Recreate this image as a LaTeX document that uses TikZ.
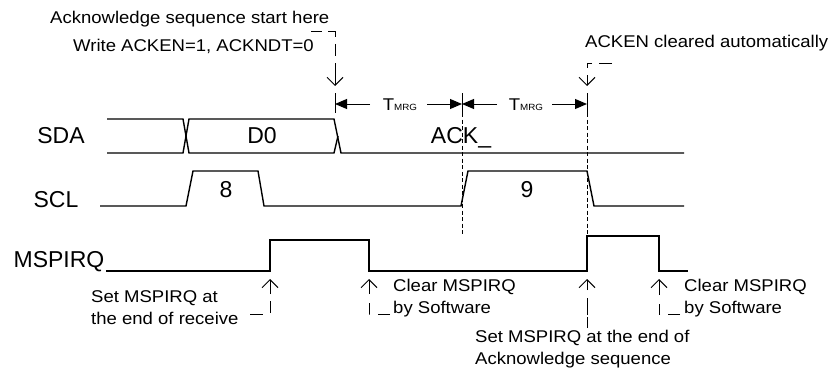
\documentclass[tikz,border=0pt]{standalone}
\usepackage{fontspec}
\setmainfont{Liberation Sans}
\newfontfamily\annfont[FakeStretch=1.09]{Liberation Sans}
\usetikzlibrary{arrows.meta}
\tikzset{
  sig/.style={line width=1.4pt, line join=miter},
  lbl/.style={font=\fontsize{23}{26}\selectfont, inner sep=0pt},
  ann/.style={font=\annfont\fontsize{17}{22}\selectfont, inner sep=0pt, align=left},
  callout/.style={line width=1pt, dash pattern={#1}, -{Straight Barb[length=8pt,width=16pt,line width=1pt]}},
  tmrg/.style={line width=1pt, -{Triangle[length=12pt,width=10pt]}},
  bar/.style={line width=1pt},
  guide/.style={line width=0.8pt, dash pattern=on 4pt off 2.5pt}
}
\newcommand{\tmrgtext}{{\annfont\fontsize{17}{17}\selectfont T}{\annfont\fontsize{9}{9}\selectfont MRG}}
\begin{document}
\begin{tikzpicture}[x=1pt,y=-1pt]
\useasboundingbox (0,0) rectangle (837,369);

% ---------- signal labels ----------
\node[lbl, anchor=base] (lsda) at (61,143) {SDA};
\node[lbl, anchor=base] (lscl) at (56,207) {SCL};
\node[lbl, anchor=base] (lirq) at (59,267) {MSPIRQ};
\node[lbl, anchor=base] (ld0) at (262,143) {D0};
\node[lbl, anchor=base] (lack) at (461,143) {ACK\_};
\node[lbl, anchor=base] (l8) at (226,197) {8};
\node[lbl, anchor=base] (l9) at (527,197) {9};

% ---------- SDA ----------
\draw[sig] (107,119) -- (183,119) -- (189,153) -- (334,153) -- (338,136);
\draw[sig] (107,153) -- (183,153) -- (189,119) -- (334,119) -- (341,153) -- (684,153);

% ---------- SCL ----------
\draw[sig] (100,206) -- (186,206) -- (193,171) -- (258,171) -- (264,206)
  -- (461,206) -- (468,171) -- (587,171) -- (594,206) -- (684,206);

% ---------- MSPIRQ ----------
\draw[sig] (106,271) -- (270,271) -- (270,240) -- (369,240) -- (369,271)
  -- (587,271) -- (587,236) -- (659,236) -- (659,271) -- (688,271);

% ---------- timing markers ----------
\coordinate (b1t) at (335,93); \coordinate (b1b) at (335,113);
\coordinate (b2t) at (462,93); \coordinate (b2b) at (462,113);
\coordinate (b3t) at (587,93); \coordinate (b3b) at (587,113);
\draw[bar] (b1t) -- (b1b);
\draw[bar] (b2t) -- (b2b);
\draw[bar] (b3t) -- (b3b);
\draw[guide] (b2b) -- (462,236);
\draw[guide] (b3b) -- (587,236);

\node[anchor=base, inner sep=0pt] (t1) at (400,110) {\tmrgtext};
\node[anchor=base, inner sep=0pt] (t2) at (526,110) {\tmrgtext};
\draw[tmrg] (370,104) -- (335,104);
\draw[tmrg] (427,104) -- (462,104);
\draw[tmrg] (497,104) -- (462,104);
\draw[tmrg] (552,104) -- (587,104);

% ---------- top annotations ----------
\node[ann, anchor=base west] (a1) at (50,24) {Acknowledge sequence start here};
\node[ann, anchor=base west] (a2) at (73,52) {Write ACKEN=1, ACKNDT=0};
\node[ann, anchor=base west] (a3) at (585,48) {ACKEN cleared automatically};
\draw[callout={on 11pt off 6pt on 12pt off 7pt on 12pt off 7pt on 23pt off 0pt}]
  (311,32) -- (335,32) -- (335,86);
\draw[callout={on 13pt off 7pt on 10pt off 7pt on 11pt off 0pt}]
  (612,63) -- (587,63) -- (587,86);

% ---------- bottom annotations ----------
\node[ann, anchor=base west] (a4) at (91,324) {Set MSPIRQ at\\the end of receive};
\node[ann, anchor=base west] (a5) at (393,313) {Clear MSPIRQ\\by Software};
\node[ann, anchor=base west] (a6) at (684,313) {Clear MSPIRQ\\by Software};
\node[ann, anchor=base west] (a7) at (475,364) {Set MSPIRQ at the end of\\Acknowledge sequence};
\draw[callout={on 13pt off 8pt on 12pt off 7pt on 15pt off 0pt}]
  (250,314) -- (270,314) -- (270,279);
\draw[callout={on 12pt off 9pt on 11pt off 9pt on 15pt off 0pt}]
  (390,314) -- (369,314) -- (369,279);
\draw[callout={on 11pt off 2pt on 17pt off 8pt on 11pt off 0pt}]
  (587,328) -- (587,279);
\draw[callout={on 12pt off 8pt on 11pt off 9pt on 15pt off 0pt}]
  (680,314) -- (659,314) -- (659,279);
\end{tikzpicture}
\end{document}
